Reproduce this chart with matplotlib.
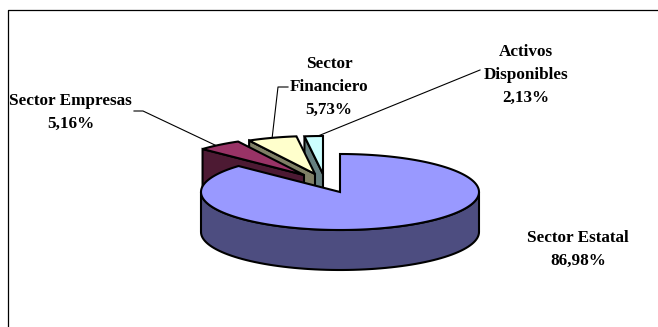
import numpy as np
import matplotlib
matplotlib.use("Agg")
import matplotlib.pyplot as plt
from matplotlib.patches import Polygon

labels = ["Sector Estatal\n86,98%", "Sector Empresas\n5,16%", "Sector\nFinanciero\n5,73%", "Activos\nDisponibles\n2,13%"]
values = [86.98, 5.16, 5.73, 2.13]
top_colors = ["#9999FF", "#993366", "#FFFFCC", "#CCFFFF"]
side_colors = ["#4D4D80", "#4D1A33", "#808066", "#668080"]
apex_x = [340, 304, 315, 323]
apex_y = [192, 175, 174, 174]
label_x = [578, 70.5, 329, 526]
label_y = [249, 112, 87, 75]
leaders = [None, [(134, 111), (143, 111), (217, 146)], [(288, 87), (278, 87), (272, 139)], [(480, 70), (318, 136)]]

RX, RY, DEPTH = 139, 38, 40
W, H = 658, 327

fig = plt.figure(figsize=(W / 100, H / 100), dpi=100)
ax = fig.add_axes([0, 0, 1, 1])
ax.set_xlim(0, W)
ax.set_ylim(H, 0)
ax.axis("off")
ax.plot([8, 8, W], [H, 10, 10], color="black", lw=0.9, solid_capstyle="butt")


def arc(cx, cy, a0, a1, n=80):
    t = np.radians(np.linspace(a0, a1, n))
    return np.column_stack([cx + RX * np.sin(t), cy - RY * np.cos(t)])


# clockwise starting angles from 12 o'clock
starts = [0.0]
for v in values[:-1]:
    starts.append(starts[-1] + v * 3.6)
ends = [s + v * 3.6 for s, v in zip(starts, values)]

for pts in leaders:
    if pts:
        xs, ys = zip(*pts)
        ax.plot(xs, ys, color="black", lw=0.8, zorder=1)

# exploded slices: each one overlaps the one drawn before it
for i in [3, 2, 1]:
    cx, cy = apex_x[i], apex_y[i]
    p = arc(cx, cy, starts[i], ends[i])
    a = p[0]
    wall = [(a[0], a[1]), (cx, cy), (cx, cy + DEPTH), (a[0], a[1] + DEPTH)]
    ax.add_patch(Polygon(wall, closed=True, fc=side_colors[i], ec="black", lw=1.5, joinstyle="miter", zorder=2))
    ax.add_patch(Polygon(np.vstack([[(cx, cy)], p]), closed=True, fc=top_colors[i], ec="black", lw=1.5, joinstyle="miter", zorder=2))

# main slice
cx, cy = apex_x[0], apex_y[0]
front = arc(cx, cy, 90, 270)
ax.add_patch(Polygon(np.vstack([front, (front + [0, DEPTH])[::-1]]), closed=True, fc=side_colors[0], ec="black", lw=1.5, zorder=3))
p = arc(cx, cy, starts[0], ends[0], 300)
ax.add_patch(Polygon(np.vstack([[(cx, cy)], p]), closed=True, fc=top_colors[0], ec="black", lw=1.5, joinstyle="miter", zorder=3))

for s, x, y in zip(labels, label_x, label_y):
    ax.text(x, y, s, family="Liberation Serif", weight="bold", fontsize=12.3,
            ha="center", va="center", linespacing=1.58, color="black")

fig.savefig("out.png", dpi=100, facecolor="white")
